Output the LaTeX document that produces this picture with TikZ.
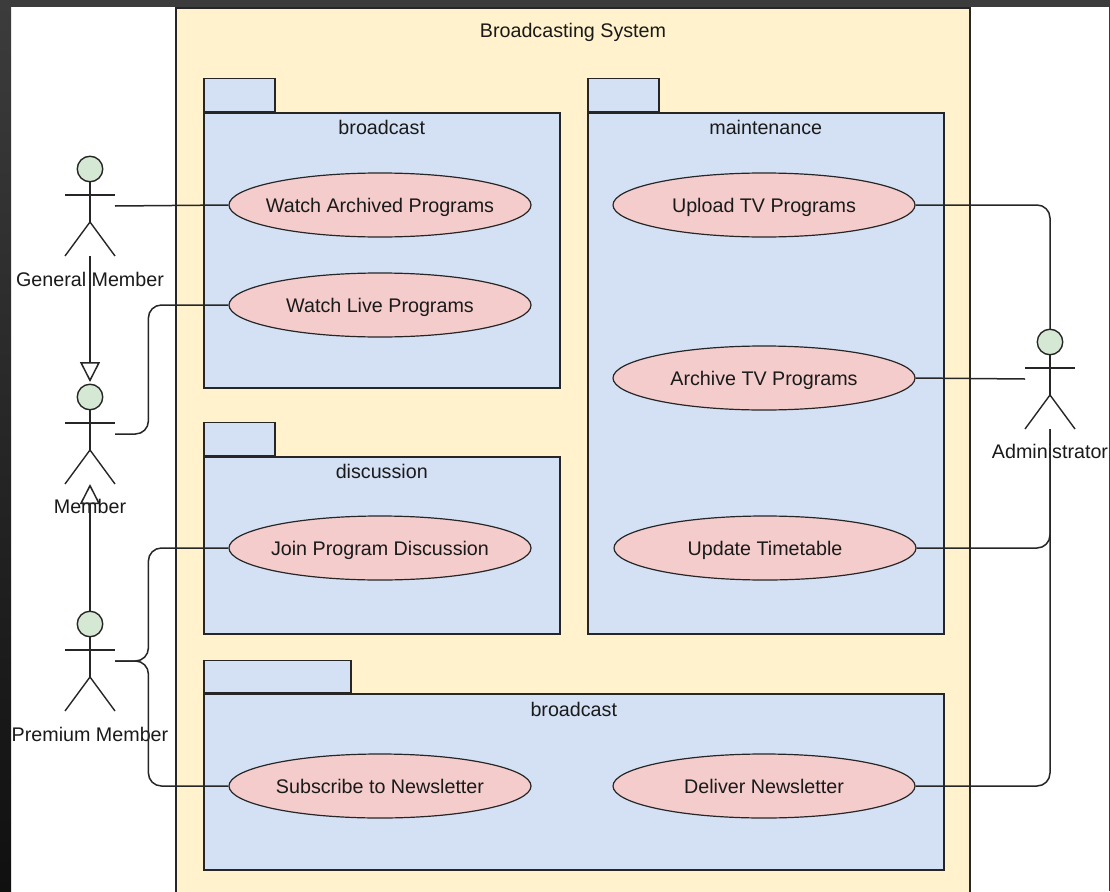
\documentclass[tikz,border=0pt]{standalone}
\usepackage{fontspec}
\setmainfont{Liberation Sans}
\usetikzlibrary{shapes.geometric,arrows.meta,calc}
\definecolor{framec}{HTML}{3C3C3C}
\definecolor{framed}{HTML}{101010}
\definecolor{sysfill}{HTML}{FFF2CC}
\definecolor{pkgfill}{HTML}{D4E1F5}
\definecolor{ucfill}{HTML}{F4CCCC}
\definecolor{headfill}{HTML}{D5E8D4}
\definecolor{ink}{HTML}{262626}
\definecolor{txt}{HTML}{1A1A1A}
\newcommand{\uctext}[1]{\makebox[0pt][c]{#1}}
\newcommand{\stickfig}[1]{%
  \draw[fig, fill=headfill] ($(#1.north)+(0,13)$) circle[radius=12.75pt];
  \draw[fig] ($(#1.north)+(0,25.75)$) -- ($(#1.north)+(0,66)$);
  \draw[fig] ($(#1.north west)+(0,39)$) -- ($(#1.north east)+(0,39)$);
  \draw[fig] (#1.south west) -- ($(#1.north)+(0,66)$) -- (#1.south east);
}
\begin{document}
\begin{tikzpicture}[x=1pt,y=-1pt,
  every node/.style={font=\fontsize{19.7}{23}\selectfont, text=txt, text height=14.2pt, text depth=0pt},
  sysbox/.style={draw=ink, fill=sysfill, line width=1.5pt},
  pkgbody/.style={rectangle, draw=ink, fill=pkgfill, line width=1.5pt, inner sep=0pt, anchor=north west},
  pkgtab/.style={rectangle, draw=ink, fill=pkgfill, line width=1.5pt, inner sep=0pt, anchor=south west, minimum height=33pt},
  usecase/.style={ellipse, draw=ink, fill=ucfill, line width=1.2pt, minimum width=302pt, minimum height=64pt, inner sep=0pt},
  actorbox/.style={rectangle, minimum width=50pt, minimum height=100pt, inner sep=0pt, outer sep=0pt},
  fig/.style={draw=ink, line width=1.4pt},
  conn/.style={draw=ink, line width=1.5pt, rounded corners=13pt},
  gen/.style={draw=ink, line width=1.5pt, -{Triangle[open, length=20pt, width=20pt]}},
]
\useasboundingbox (0,0) rectangle (1110,891);
\clip (0,0) rectangle (1110,891);
% background and screen frame
\fill[white] (0,0) rectangle (1110,891);
\shade[top color=framec, bottom color=framed] (0,0) rectangle (11,891);
\fill[framec] (0,0) rectangle (1110,7);
\fill[framec] (1109,0) rectangle (1110,891);
% system boundary
\draw[sysbox] (176,8) rectangle (970,905);
\node (title) at (573,30.5) {Broadcasting System};
% packages
\node[pkgbody, minimum width=356pt, minimum height=275pt] (p1) at (203,112) {};
\node[pkgtab, minimum width=71pt] (p1t) at (p1.north west) {};
\node (p1l) at ($(p1.north)+(0,15.5)$) {broadcast};
\node[pkgbody, minimum width=356pt, minimum height=521pt] (p2) at (587,112) {};
\node[pkgtab, minimum width=71pt] (p2t) at (p2.north west) {};
\node (p2l) at ($(p2.north)+(0,15.5)$) {maintenance};
\node[pkgbody, minimum width=356pt, minimum height=177pt] (p3) at (203,456) {};
\node[pkgtab, minimum width=71pt] (p3t) at (p3.north west) {};
\node (p3l) at ($(p3.north)+(0,15.5)$) {discussion};
\node[pkgbody, minimum width=740pt, minimum height=176pt] (p4) at (203,693) {};
\node[pkgtab, minimum width=147pt, minimum height=32pt] (p4t) at (p4.north west) {};
\node (p4l) at ($(p4.north)+(0,16)$) {broadcast};
% use cases
\node[usecase] (wap) at (380,205) {\uctext{Watch Archived Programs}};
\node[usecase] (wlp) at (380,305) {\uctext{Watch Live Programs}};
\node[usecase] (jpd) at (380,548) {\uctext{Join Program Discussion}};
\node[usecase] (sub) at (380,786) {\uctext{Subscribe to Newsletter}};
\node[usecase] (utv) at (764,205) {\uctext{Upload TV Programs}};
\node[usecase] (atv) at (764,378) {\uctext{Archive TV Programs}};
\node[usecase] (ut)  at (765,548) {\uctext{Update Timetable}};
\node[usecase] (dn)  at (764,786) {\uctext{Deliver Newsletter}};
% actors
\node[actorbox] (gm)  at (90,206)   {};
\node[actorbox] (mem) at (90,434)   {};
\node[actorbox] (pm)  at (90,661)   {};
\node[actorbox] (adm) at (1050,379) {};
\stickfig{gm}
\stickfig{mem}
\stickfig{pm}
\stickfig{adm}
\node (gml)  at ($(gm.south)+(0,23)$)  {General Member};
\node (meml) at ($(mem.south)+(0,22.5)$) {Member};
\node (pml)  at ($(pm.south)+(0,23)$)  {Premium Member};
\node (adml) at ($(adm.south)+(0,22)$) {Administrator};
% associations
\draw[conn] (gm.east) -- (wap.west);
\draw[conn] (mem.east) -| ([xshift=-80pt]wlp.west) -- (wlp.west);
\draw[conn] (pm.east) -| ([xshift=-80pt]jpd.west) -- (jpd.west);
\draw[conn] (pm.east) -| ([xshift=-80pt]sub.west) -- (sub.west);
\draw[conn] (utv.east) -| (adm.north);
\draw[conn] (atv.east) -- (adm.west);
\draw[conn] (ut.east) -| (adm.south);
\draw[conn] (dn.east) -| (adm.south);
% generalizations
\draw[gen] (gm.south) -- ([yshift=2pt]mem.north);
\draw[gen] (pm.north) -- (mem.south);
\end{tikzpicture}
\end{document}
